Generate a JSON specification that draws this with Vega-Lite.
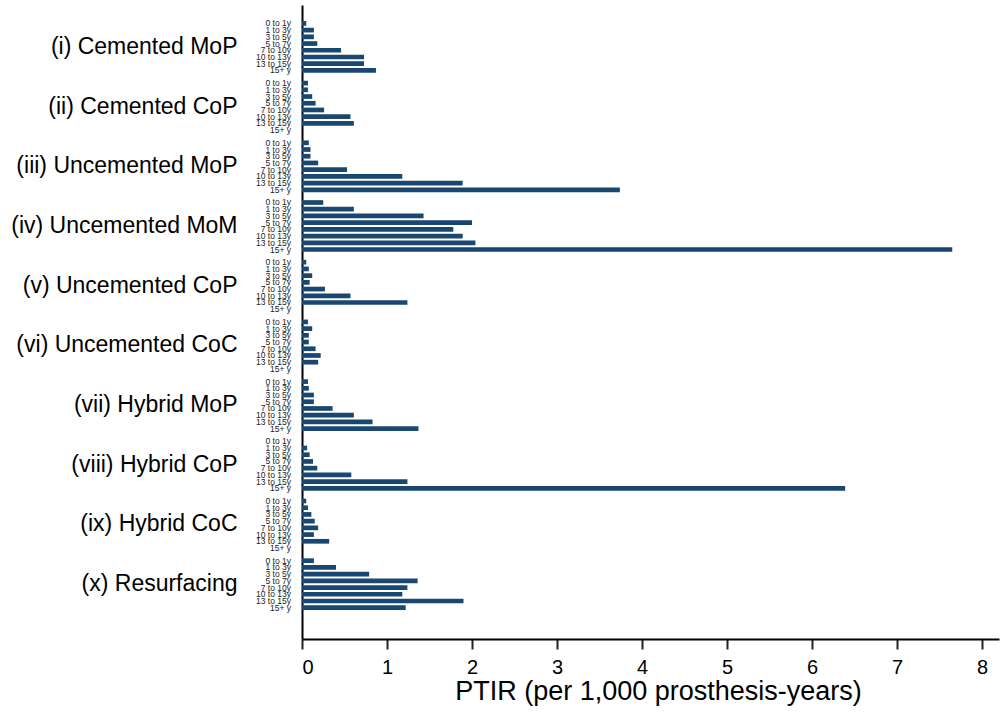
{
  "$schema": "https://vega.github.io/schema/vega-lite/v6.json",
  "autosize": {"type": "none"},
  "padding": {"left": 302, "top": 5, "right": 5, "bottom": 74},
  "width": 697,
  "height": 634,
  "background": "white",
  "config": {"view": {"stroke": null}, "font": "Liberation Sans"},
  "data": {"values": [
    {"g": "(i) Cemented MoP", "p": "0 to 1y", "v": 0.05},
    {"g": "(i) Cemented MoP", "p": "1 to 3y", "v": 0.14},
    {"g": "(i) Cemented MoP", "p": "3 to 5y", "v": 0.14},
    {"g": "(i) Cemented MoP", "p": "5 to 7y", "v": 0.18},
    {"g": "(i) Cemented MoP", "p": "7 to 10y", "v": 0.46},
    {"g": "(i) Cemented MoP", "p": "10 to 13y", "v": 0.73},
    {"g": "(i) Cemented MoP", "p": "13 to 15y", "v": 0.73},
    {"g": "(i) Cemented MoP", "p": "15+ y", "v": 0.87},
    {"g": "(ii) Cemented CoP", "p": "0 to 1y", "v": 0.07},
    {"g": "(ii) Cemented CoP", "p": "1 to 3y", "v": 0.07},
    {"g": "(ii) Cemented CoP", "p": "3 to 5y", "v": 0.12},
    {"g": "(ii) Cemented CoP", "p": "5 to 7y", "v": 0.16},
    {"g": "(ii) Cemented CoP", "p": "7 to 10y", "v": 0.26},
    {"g": "(ii) Cemented CoP", "p": "10 to 13y", "v": 0.57},
    {"g": "(ii) Cemented CoP", "p": "13 to 15y", "v": 0.61},
    {"g": "(ii) Cemented CoP", "p": "15+ y", "v": null},
    {"g": "(iii) Uncemented MoP", "p": "0 to 1y", "v": 0.08},
    {"g": "(iii) Uncemented MoP", "p": "1 to 3y", "v": 0.10},
    {"g": "(iii) Uncemented MoP", "p": "3 to 5y", "v": 0.10},
    {"g": "(iii) Uncemented MoP", "p": "5 to 7y", "v": 0.19},
    {"g": "(iii) Uncemented MoP", "p": "7 to 10y", "v": 0.53},
    {"g": "(iii) Uncemented MoP", "p": "10 to 13y", "v": 1.18},
    {"g": "(iii) Uncemented MoP", "p": "13 to 15y", "v": 1.89},
    {"g": "(iii) Uncemented MoP", "p": "15+ y", "v": 3.74},
    {"g": "(iv) Uncemented MoM", "p": "0 to 1y", "v": 0.25},
    {"g": "(iv) Uncemented MoM", "p": "1 to 3y", "v": 0.61},
    {"g": "(iv) Uncemented MoM", "p": "3 to 5y", "v": 1.43},
    {"g": "(iv) Uncemented MoM", "p": "5 to 7y", "v": 2.0},
    {"g": "(iv) Uncemented MoM", "p": "7 to 10y", "v": 1.78},
    {"g": "(iv) Uncemented MoM", "p": "10 to 13y", "v": 1.89},
    {"g": "(iv) Uncemented MoM", "p": "13 to 15y", "v": 2.04},
    {"g": "(iv) Uncemented MoM", "p": "15+ y", "v": 7.65},
    {"g": "(v) Uncemented CoP", "p": "0 to 1y", "v": 0.05},
    {"g": "(v) Uncemented CoP", "p": "1 to 3y", "v": 0.08},
    {"g": "(v) Uncemented CoP", "p": "3 to 5y", "v": 0.12},
    {"g": "(v) Uncemented CoP", "p": "5 to 7y", "v": 0.09},
    {"g": "(v) Uncemented CoP", "p": "7 to 10y", "v": 0.27},
    {"g": "(v) Uncemented CoP", "p": "10 to 13y", "v": 0.57},
    {"g": "(v) Uncemented CoP", "p": "13 to 15y", "v": 1.24},
    {"g": "(v) Uncemented CoP", "p": "15+ y", "v": null},
    {"g": "(vi) Uncemented CoC", "p": "0 to 1y", "v": 0.07},
    {"g": "(vi) Uncemented CoC", "p": "1 to 3y", "v": 0.12},
    {"g": "(vi) Uncemented CoC", "p": "3 to 5y", "v": 0.08},
    {"g": "(vi) Uncemented CoC", "p": "5 to 7y", "v": 0.08},
    {"g": "(vi) Uncemented CoC", "p": "7 to 10y", "v": 0.16},
    {"g": "(vi) Uncemented CoC", "p": "10 to 13y", "v": 0.22},
    {"g": "(vi) Uncemented CoC", "p": "13 to 15y", "v": 0.19},
    {"g": "(vi) Uncemented CoC", "p": "15+ y", "v": null},
    {"g": "(vii) Hybrid MoP", "p": "0 to 1y", "v": 0.07},
    {"g": "(vii) Hybrid MoP", "p": "1 to 3y", "v": 0.08},
    {"g": "(vii) Hybrid MoP", "p": "3 to 5y", "v": 0.14},
    {"g": "(vii) Hybrid MoP", "p": "5 to 7y", "v": 0.14},
    {"g": "(vii) Hybrid MoP", "p": "7 to 10y", "v": 0.36},
    {"g": "(vii) Hybrid MoP", "p": "10 to 13y", "v": 0.61},
    {"g": "(vii) Hybrid MoP", "p": "13 to 15y", "v": 0.83},
    {"g": "(vii) Hybrid MoP", "p": "15+ y", "v": 1.37},
    {"g": "(viii) Hybrid CoP", "p": "0 to 1y", "v": null},
    {"g": "(viii) Hybrid CoP", "p": "1 to 3y", "v": 0.06},
    {"g": "(viii) Hybrid CoP", "p": "3 to 5y", "v": 0.09},
    {"g": "(viii) Hybrid CoP", "p": "5 to 7y", "v": 0.13},
    {"g": "(viii) Hybrid CoP", "p": "7 to 10y", "v": 0.18},
    {"g": "(viii) Hybrid CoP", "p": "10 to 13y", "v": 0.58},
    {"g": "(viii) Hybrid CoP", "p": "13 to 15y", "v": 1.24},
    {"g": "(viii) Hybrid CoP", "p": "15+ y", "v": 6.39},
    {"g": "(ix) Hybrid CoC", "p": "0 to 1y", "v": 0.05},
    {"g": "(ix) Hybrid CoC", "p": "1 to 3y", "v": 0.07},
    {"g": "(ix) Hybrid CoC", "p": "3 to 5y", "v": 0.11},
    {"g": "(ix) Hybrid CoC", "p": "5 to 7y", "v": 0.15},
    {"g": "(ix) Hybrid CoC", "p": "7 to 10y", "v": 0.19},
    {"g": "(ix) Hybrid CoC", "p": "10 to 13y", "v": 0.14},
    {"g": "(ix) Hybrid CoC", "p": "13 to 15y", "v": 0.32},
    {"g": "(ix) Hybrid CoC", "p": "15+ y", "v": null},
    {"g": "(x) Resurfacing", "p": "0 to 1y", "v": 0.14},
    {"g": "(x) Resurfacing", "p": "1 to 3y", "v": 0.40},
    {"g": "(x) Resurfacing", "p": "3 to 5y", "v": 0.79},
    {"g": "(x) Resurfacing", "p": "5 to 7y", "v": 1.36},
    {"g": "(x) Resurfacing", "p": "7 to 10y", "v": 1.24},
    {"g": "(x) Resurfacing", "p": "10 to 13y", "v": 1.18},
    {"g": "(x) Resurfacing", "p": "13 to 15y", "v": 1.90},
    {"g": "(x) Resurfacing", "p": "15+ y", "v": 1.22}
  ]},
  "encoding": {
    "y": {
      "field": "g", "type": "nominal",
      "sort": ["(i) Cemented MoP", "(ii) Cemented CoP", "(iii) Uncemented MoP", "(iv) Uncemented MoM", "(v) Uncemented CoP", "(vi) Uncemented CoC", "(vii) Hybrid MoP", "(viii) Hybrid CoP", "(ix) Hybrid CoC", "(x) Resurfacing"],
      "scale": {"paddingInner": 0.1, "paddingOuter": 0.36, "align": 0.35},
      "axis": {
        "title": null, "ticks": false, "domain": true, "domainColor": "#000000", "domainWidth": 2,
        "labelPadding": 65, "labelFontSize": 23, "labelColor": "#000000", "labelFont": "Liberation Sans", "labelLimit": 400
      }
    },
    "yOffset": {
      "field": "p", "type": "nominal",
      "sort": ["0 to 1y", "1 to 3y", "3 to 5y", "5 to 7y", "7 to 10y", "10 to 13y", "13 to 15y", "15+ y"],
      "scale": {"paddingInner": 0.3, "paddingOuter": 0.15}
    }
  },
  "layer": [
    {
      "mark": {"type": "bar", "color": "#1a476f"},
      "encoding": {
        "x": {
          "field": "v", "type": "quantitative",
          "scale": {"domain": [0, 8.2], "nice": false, "zero": true},
          "axis": {
            "title": "PTIR (per 1,000 prosthesis-years)",
            "values": [0, 1, 2, 3, 4, 5, 6, 7, 8], "format": "d",
            "grid": false, "domainColor": "#000000", "domainWidth": 2,
            "tickColor": "#222222", "tickWidth": 2, "tickSize": 10,
            "labelFontSize": 20, "labelColor": "#000000", "labelPadding": 8, "labelFont": "Liberation Sans",
            "titleFontSize": 27, "titleFontWeight": "normal", "titleColor": "#000000", "titleFont": "Liberation Sans",
            "titleX": 356, "titleY": 60, "titleBaseline": "alphabetic"
          }
        }
      }
    },
    {
      "mark": {"type": "text", "align": "right", "baseline": "middle", "dx": -11, "fontSize": 8.5, "color": "#222222", "font": "Liberation Sans"},
      "encoding": {
        "x": {"datum": 0, "type": "quantitative"},
        "text": {"field": "p", "type": "nominal"}
      }
    }
  ]
}
